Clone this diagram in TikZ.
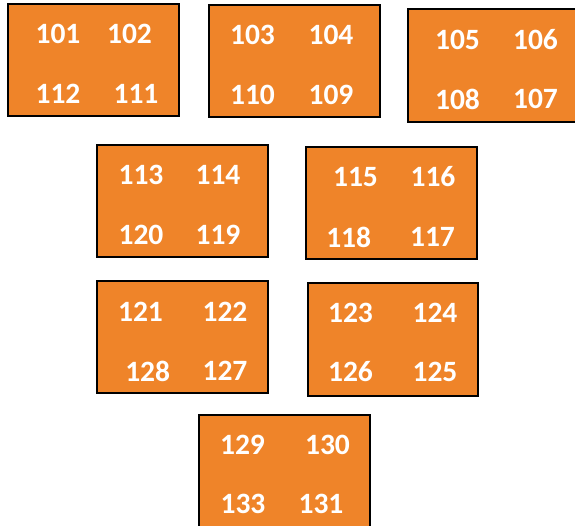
\documentclass[tikz,border=0pt]{standalone}
\usepackage{fontspec}
\setmainfont{Carlito}
\definecolor{roomorange}{HTML}{EF8429}
\tikzset{
  roombox/.style={draw=black, fill=roomorange, line width=1.6pt,
    minimum width=171pt, minimum height=112pt, inner sep=0pt},
  roomnum/.style={text=white, inner sep=0pt,
    font=\fontsize{29.5}{31}\selectfont\bfseries}
}
\begin{document}
\begin{tikzpicture}[x=1pt,y=-1pt]
  \useasboundingbox (0,0) rectangle (575,526);
  \clip (0,0) rectangle (575,526);
  % blocks
  \node[roombox, line width=2.6pt] (blockA) at (93.5,60) {};
  \node[roombox] (blockB) at (294.5,61) {};
  \node[roombox, minimum height=113pt] (blockC) at (493.5,65.5) {};
  \node[roombox] (blockD) at (182.5,201) {};
  \node[roombox] (blockE) at (391.5,203) {};
  \node[roombox] (blockF) at (182.5,337) {};
  \node[roombox, minimum width=170pt, minimum height=113pt] (blockG) at (393,339.5) {};
  \node[roombox] (blockH) at (284.5,471) {};
  % room numbers
  \node[roomnum] (r101) at (58,34) {101};
  \node[roomnum] (r102) at (129.5,34) {102};
  \node[roomnum] (r112) at (58,94) {112};
  \node[roomnum] (r111) at (136,94) {111};
  \node[roomnum] (r103) at (252.5,35) {103};
  \node[roomnum] (r104) at (331,35) {104};
  \node[roomnum] (r110) at (252.5,95) {110};
  \node[roomnum] (r109) at (331,95) {109};
  \node[roomnum] (r105) at (457.5,40) {105};
  \node[roomnum] (r106) at (535.5,40) {106};
  \node[roomnum] (r108) at (457.5,99) {108};
  \node[roomnum] (r107) at (535.5,99) {107};
  \node[roomnum] (r113) at (141,175) {113};
  \node[roomnum] (r114) at (218,175) {114};
  \node[roomnum] (r120) at (141,235) {120};
  \node[roomnum] (r119) at (218,235) {119};
  \node[roomnum] (r115) at (355.5,177) {115};
  \node[roomnum] (r116) at (433,177) {116};
  \node[roomnum] (r118) at (348.7,237) {118};
  \node[roomnum] (r117) at (432.5,237) {117};
  \node[roomnum] (r121) at (140.5,312) {121};
  \node[roomnum] (r122) at (225,312) {122};
  \node[roomnum] (r128) at (147.7,371) {128};
  \node[roomnum] (r127) at (225,371) {127};
  \node[roomnum] (r123) at (350.5,313) {123};
  \node[roomnum] (r124) at (435,313) {124};
  \node[roomnum] (r126) at (350.5,372) {126};
  \node[roomnum] (r125) at (435,372) {125};
  \node[roomnum] (r129) at (242.5,445) {129};
  \node[roomnum] (r130) at (327.5,445) {130};
  \node[roomnum] (r133) at (243,504) {133};
  \node[roomnum] (r131) at (321,504) {131};
\end{tikzpicture}
\end{document}
